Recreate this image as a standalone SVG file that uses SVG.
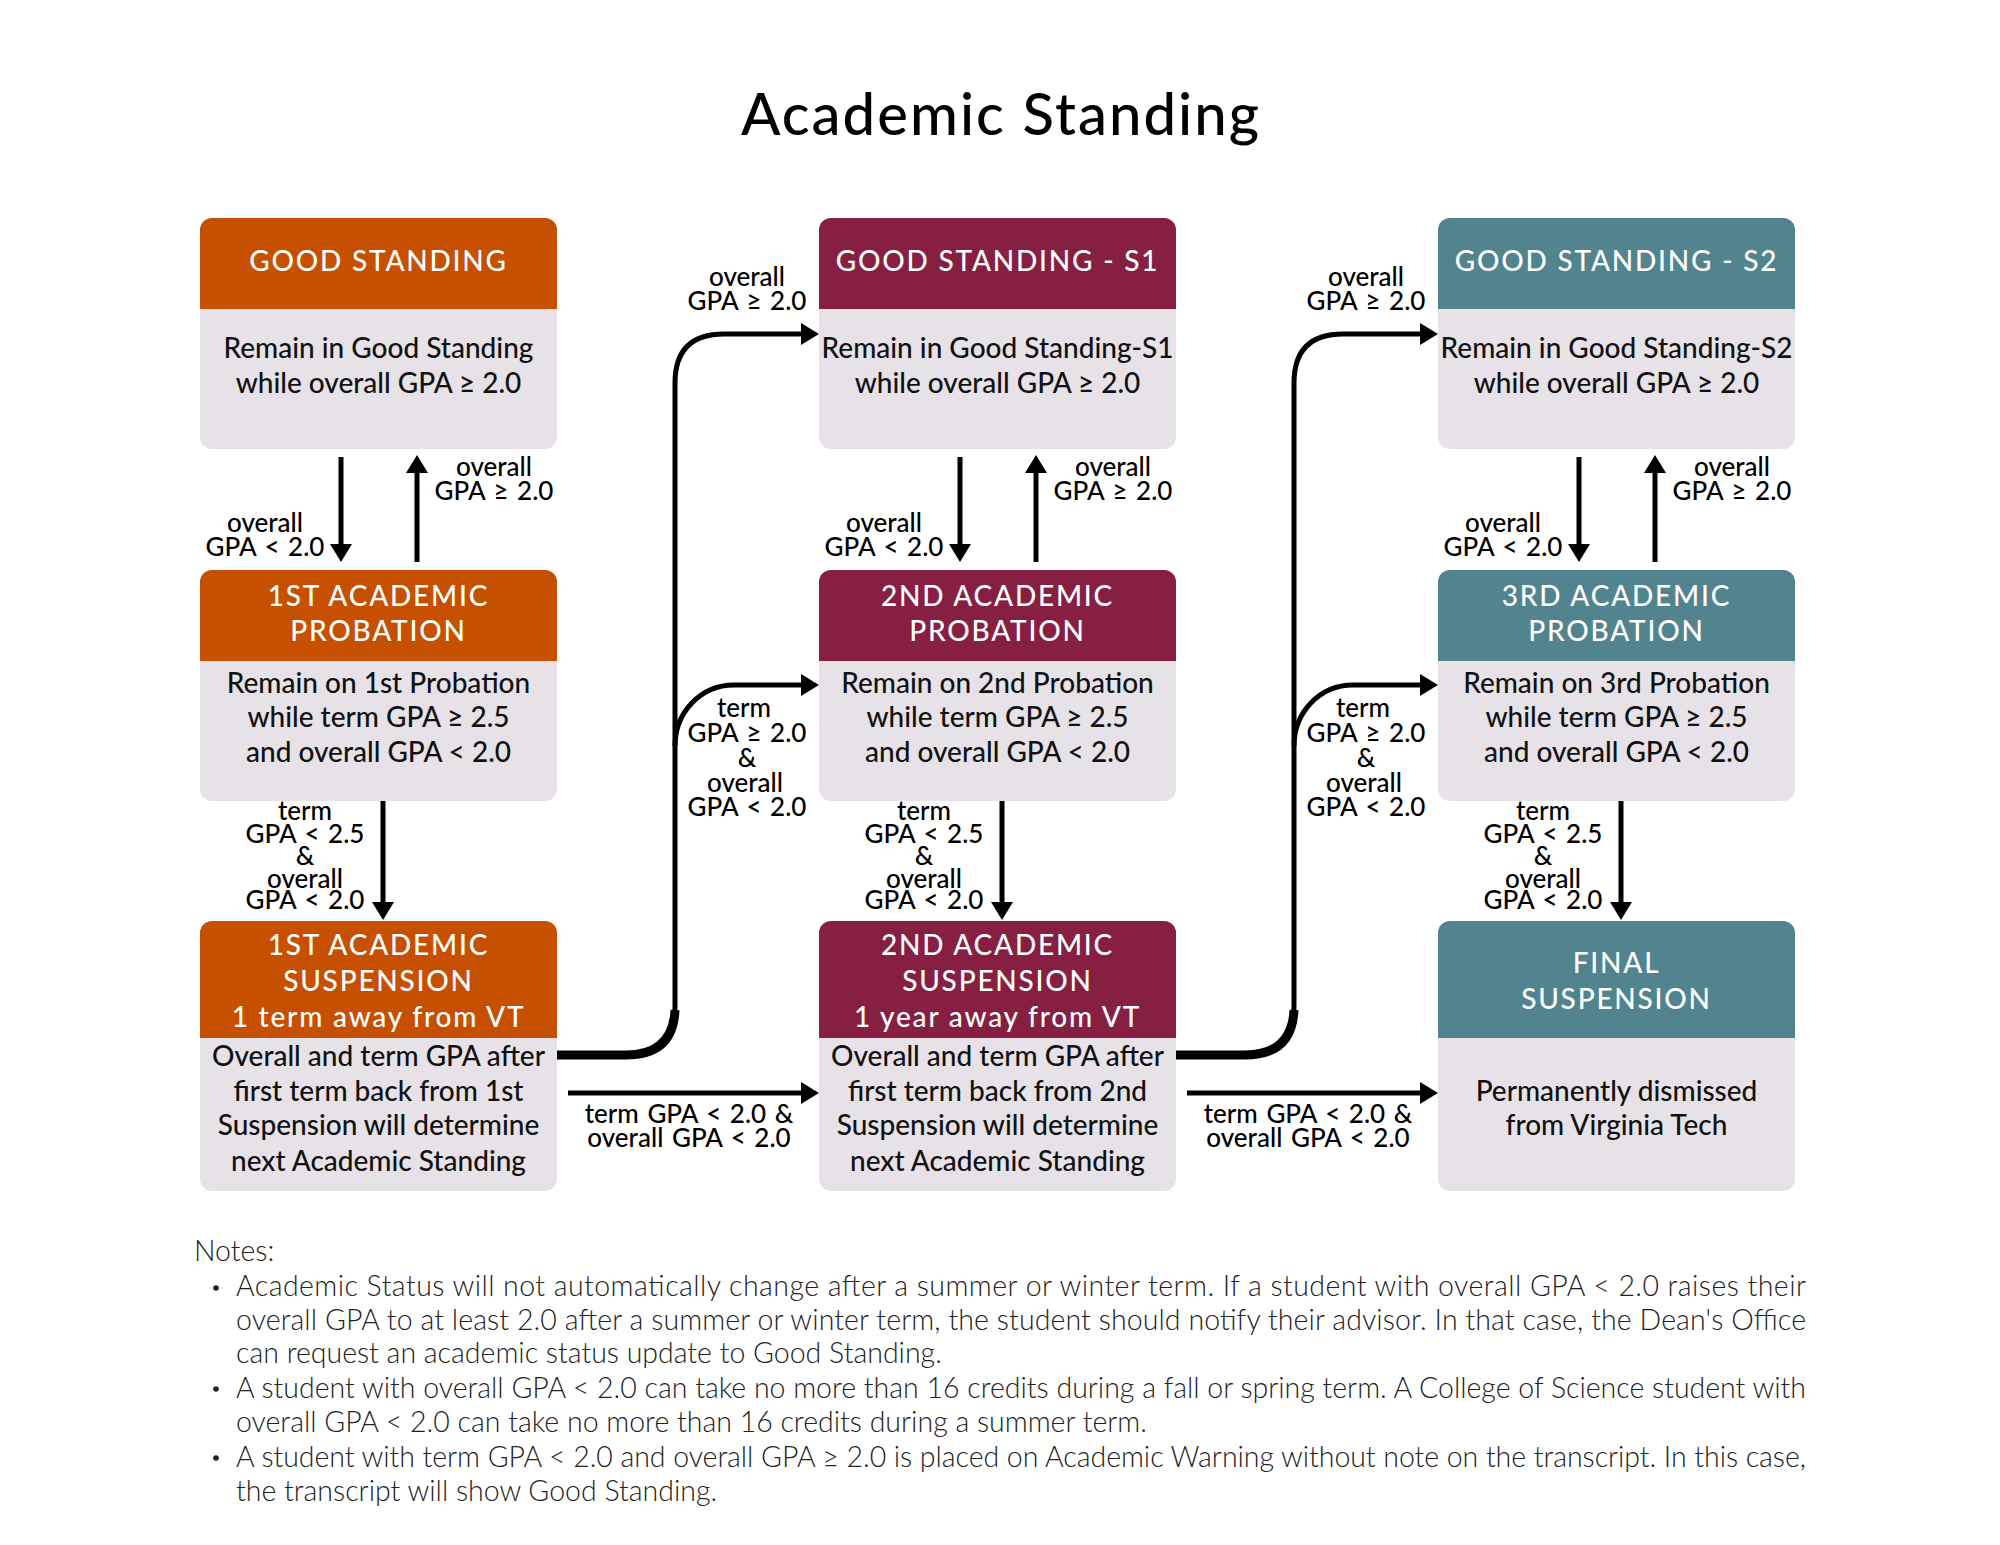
<svg xmlns="http://www.w3.org/2000/svg" width="2000" height="1545" viewBox="0 0 2000 1545">
<defs>
<style>
.bg{fill:#ffffff}
.body{fill:#E6E2E7}
.or{fill:#C75000}
.mr{fill:#861F41}
.tl{fill:#51848E}
.ht{font-family:Lato,"Open Sans","Liberation Sans",sans-serif;font-weight:500;font-size:28px;fill:#ffffff;text-anchor:middle;letter-spacing:1.8px}
.bt{font-family:Lato,"Open Sans","Liberation Sans",sans-serif;font-weight:500;font-size:28px;fill:#111111;text-anchor:middle}
.lb{font-family:Lato,"Open Sans","Liberation Sans",sans-serif;font-weight:500;font-size:26px;fill:#000000;text-anchor:middle;word-spacing:2px}
.title{font-family:Lato,"Open Sans","Liberation Sans",sans-serif;font-weight:500;font-size:58px;fill:#000000;text-anchor:middle}
.nt{font-family:Lato,"Open Sans","Liberation Sans",sans-serif;font-weight:300;font-size:28.5px;fill:#222222}
.ln{fill:none;stroke:#000000;stroke-width:5}
.thick{fill:none;stroke:#000000;stroke-width:9}
</style>
<marker id="ah" markerUnits="userSpaceOnUse" markerWidth="18" markerHeight="22" refX="10" refY="11" orient="auto" viewBox="0 0 18 22">
<path d="M0,0 L18,11 L0,22 Z" fill="#000000"/>
</marker>
</defs>
<rect class="bg" x="0" y="0" width="2000" height="1545"/>
<text class="title" x="1000" y="135" textLength="518">Academic Standing</text>

<!-- Column 1 -->
<g id="good-standing">
<rect class="body" x="200" y="218" width="357" height="231" rx="12"/>
<path class="or" d="M200,309 V230 A12,12 0 0 1 212,218 H545 A12,12 0 0 1 557,230 V309 Z"/>
<text class="ht" x="378.5" y="271">GOOD STANDING</text>
<text class="bt" x="378.5" y="358">Remain in Good Standing</text>
<text class="bt" x="378.5" y="393">while overall GPA ≥ 2.0</text>
</g>
<g id="probation-1">
<rect class="body" x="200" y="570" width="357" height="231" rx="12"/>
<path class="or" d="M200,661 V582 A12,12 0 0 1 212,570 H545 A12,12 0 0 1 557,582 V661 Z"/>
<text class="ht" x="378.5" y="606">1ST ACADEMIC</text>
<text class="ht" x="378.5" y="641">PROBATION</text>
<text class="bt" x="378.5" y="693">Remain on 1st Probation</text>
<text class="bt" x="378.5" y="727">while term GPA ≥ 2.5</text>
<text class="bt" x="378.5" y="762">and overall GPA &lt; 2.0</text>
</g>
<g id="suspension-1">
<rect class="body" x="200" y="921" width="357" height="270" rx="12"/>
<path class="or" d="M200,1038 V933 A12,12 0 0 1 212,921 H545 A12,12 0 0 1 557,933 V1038 Z"/>
<text class="ht" x="378.5" y="955">1ST ACADEMIC</text>
<text class="ht" x="378.5" y="991">SUSPENSION</text>
<text class="ht" x="378.5" y="1027">1 term away from VT</text>
<text class="bt" x="378.5" y="1066">Overall and term GPA after</text>
<text class="bt" x="378.5" y="1101">first term back from 1st</text>
<text class="bt" x="378.5" y="1135">Suspension will determine</text>
<text class="bt" x="378.5" y="1171">next Academic Standing</text>
</g>

<!-- Column 2 -->
<g id="good-standing-s1">
<rect class="body" x="819" y="218" width="357" height="231" rx="12"/>
<path class="mr" d="M819,309 V230 A12,12 0 0 1 831,218 H1164 A12,12 0 0 1 1176,230 V309 Z"/>
<text class="ht" x="997.5" y="271">GOOD STANDING - S1</text>
<text class="bt" x="997.5" y="358">Remain in Good Standing-S1</text>
<text class="bt" x="997.5" y="393">while overall GPA ≥ 2.0</text>
</g>
<g id="probation-2">
<rect class="body" x="819" y="570" width="357" height="231" rx="12"/>
<path class="mr" d="M819,661 V582 A12,12 0 0 1 831,570 H1164 A12,12 0 0 1 1176,582 V661 Z"/>
<text class="ht" x="997.5" y="606">2ND ACADEMIC</text>
<text class="ht" x="997.5" y="641">PROBATION</text>
<text class="bt" x="997.5" y="693">Remain on 2nd Probation</text>
<text class="bt" x="997.5" y="727">while term GPA ≥ 2.5</text>
<text class="bt" x="997.5" y="762">and overall GPA &lt; 2.0</text>
</g>
<g id="suspension-2">
<rect class="body" x="819" y="921" width="357" height="270" rx="12"/>
<path class="mr" d="M819,1038 V933 A12,12 0 0 1 831,921 H1164 A12,12 0 0 1 1176,933 V1038 Z"/>
<text class="ht" x="997.5" y="955">2ND ACADEMIC</text>
<text class="ht" x="997.5" y="991">SUSPENSION</text>
<text class="ht" x="997.5" y="1027">1 year away from VT</text>
<text class="bt" x="997.5" y="1066">Overall and term GPA after</text>
<text class="bt" x="997.5" y="1101">first term back from 2nd</text>
<text class="bt" x="997.5" y="1135">Suspension will determine</text>
<text class="bt" x="997.5" y="1171">next Academic Standing</text>
</g>

<!-- Column 3 -->
<g id="good-standing-s2">
<rect class="body" x="1438" y="218" width="357" height="231" rx="12"/>
<path class="tl" d="M1438,309 V230 A12,12 0 0 1 1450,218 H1783 A12,12 0 0 1 1795,230 V309 Z"/>
<text class="ht" x="1616.5" y="271">GOOD STANDING - S2</text>
<text class="bt" x="1616.5" y="358">Remain in Good Standing-S2</text>
<text class="bt" x="1616.5" y="393">while overall GPA ≥ 2.0</text>
</g>
<g id="probation-3">
<rect class="body" x="1438" y="570" width="357" height="231" rx="12"/>
<path class="tl" d="M1438,661 V582 A12,12 0 0 1 1450,570 H1783 A12,12 0 0 1 1795,582 V661 Z"/>
<text class="ht" x="1616.5" y="606">3RD ACADEMIC</text>
<text class="ht" x="1616.5" y="641">PROBATION</text>
<text class="bt" x="1616.5" y="693">Remain on 3rd Probation</text>
<text class="bt" x="1616.5" y="727">while term GPA ≥ 2.5</text>
<text class="bt" x="1616.5" y="762">and overall GPA &lt; 2.0</text>
</g>
<g id="final-suspension">
<rect class="body" x="1438" y="921" width="357" height="270" rx="12"/>
<path class="tl" d="M1438,1038 V933 A12,12 0 0 1 1450,921 H1783 A12,12 0 0 1 1795,933 V1038 Z"/>
<text class="ht" x="1616.5" y="973">FINAL</text>
<text class="ht" x="1616.5" y="1009">SUSPENSION</text>
<text class="bt" x="1616.5" y="1101">Permanently dismissed</text>
<text class="bt" x="1616.5" y="1135">from Virginia Tech</text>
</g>

<!-- Connectors -->
<g id="connectors">
<path class="ln" d="M341,457 V554" marker-end="url(#ah)"/>
<path class="ln" d="M417,562 V463" marker-end="url(#ah)"/>
<path class="ln" d="M383,801 V912" marker-end="url(#ah)"/>
<path class="ln" d="M960,457 V554" marker-end="url(#ah)"/>
<path class="ln" d="M1036,562 V463" marker-end="url(#ah)"/>
<path class="ln" d="M1002,801 V912" marker-end="url(#ah)"/>
<path class="ln" d="M1579,457 V554" marker-end="url(#ah)"/>
<path class="ln" d="M1655,562 V463" marker-end="url(#ah)"/>
<path class="ln" d="M1621,801 V912" marker-end="url(#ah)"/>

<path class="ln" d="M557,1055 H626 Q675,1055 675,1006 V383 Q675,334 724,334 H811" marker-end="url(#ah)"/>
<path class="thick" d="M557,1055 H626 Q673,1055 675,1010"/>
<path class="ln" d="M675,746 C675,712 701,685 734,685 H811" marker-end="url(#ah)"/>
<path class="ln" d="M568,1093 H811" marker-end="url(#ah)"/>

<path class="ln" d="M1176,1055 H1245 Q1294,1055 1294,1006 V383 Q1294,334 1343,334 H1430" marker-end="url(#ah)"/>
<path class="thick" d="M1176,1055 H1245 Q1292,1055 1294,1010"/>
<path class="ln" d="M1294,746 C1294,712 1320,685 1353,685 H1430" marker-end="url(#ah)"/>
<path class="ln" d="M1187,1093 H1430" marker-end="url(#ah)"/>

<text class="lb" x="265" y="532">overall</text>
<text class="lb" x="265" y="556">GPA &lt; 2.0</text>
<text class="lb" x="494" y="476">overall</text>
<text class="lb" x="494" y="500">GPA ≥ 2.0</text>
<text class="lb" x="305" y="820">term</text>
<text class="lb" x="305" y="843">GPA &lt; 2.5</text>
<text class="lb" x="305" y="865">&amp;</text>
<text class="lb" x="305" y="888">overall</text>
<text class="lb" x="305" y="909">GPA &lt; 2.0</text>

<text class="lb" x="884" y="532">overall</text>
<text class="lb" x="884" y="556">GPA &lt; 2.0</text>
<text class="lb" x="1113" y="476">overall</text>
<text class="lb" x="1113" y="500">GPA ≥ 2.0</text>
<text class="lb" x="924" y="820">term</text>
<text class="lb" x="924" y="843">GPA &lt; 2.5</text>
<text class="lb" x="924" y="865">&amp;</text>
<text class="lb" x="924" y="888">overall</text>
<text class="lb" x="924" y="909">GPA &lt; 2.0</text>

<text class="lb" x="1503" y="532">overall</text>
<text class="lb" x="1503" y="556">GPA &lt; 2.0</text>
<text class="lb" x="1732" y="476">overall</text>
<text class="lb" x="1732" y="500">GPA ≥ 2.0</text>
<text class="lb" x="1543" y="820">term</text>
<text class="lb" x="1543" y="843">GPA &lt; 2.5</text>
<text class="lb" x="1543" y="865">&amp;</text>
<text class="lb" x="1543" y="888">overall</text>
<text class="lb" x="1543" y="909">GPA &lt; 2.0</text>

<text class="lb" x="747" y="286">overall</text>
<text class="lb" x="747" y="310">GPA ≥ 2.0</text>
<text class="lb" x="744" y="717">term</text>
<text class="lb" x="747" y="742">GPA ≥ 2.0</text>
<text class="lb" x="747" y="767">&amp;</text>
<text class="lb" x="745" y="792">overall</text>
<text class="lb" x="747" y="816">GPA &lt; 2.0</text>
<text class="lb" x="689" y="1123">term GPA &lt; 2.0 &amp;</text>
<text class="lb" x="689" y="1147">overall GPA &lt; 2.0</text>

<text class="lb" x="1366" y="286">overall</text>
<text class="lb" x="1366" y="310">GPA ≥ 2.0</text>
<text class="lb" x="1363" y="717">term</text>
<text class="lb" x="1366" y="742">GPA ≥ 2.0</text>
<text class="lb" x="1366" y="767">&amp;</text>
<text class="lb" x="1364" y="792">overall</text>
<text class="lb" x="1366" y="816">GPA &lt; 2.0</text>
<text class="lb" x="1308" y="1123">term GPA &lt; 2.0 &amp;</text>
<text class="lb" x="1308" y="1147">overall GPA &lt; 2.0</text>
</g>

<!-- Notes -->
<g id="notes">
<text class="nt" x="194" y="1261">Notes:</text>
<circle cx="216" cy="1288" r="2.8" fill="#222222"/>
<circle cx="216" cy="1389" r="2.8" fill="#222222"/>
<circle cx="216" cy="1458" r="2.8" fill="#222222"/>
<text class="nt" x="236" y="1296" textLength="1570" lengthAdjust="spacing">Academic Status will not automatically change after a summer or winter term. If a student with overall GPA &lt; 2.0 raises their</text>
<text class="nt" x="236" y="1330" textLength="1570" lengthAdjust="spacing">overall GPA to at least 2.0 after a summer or winter term, the student should notify their advisor. In that case, the Dean's Office</text>
<text class="nt" x="236" y="1363">can request an academic status update to Good Standing.</text>
<text class="nt" x="236" y="1398" textLength="1570" lengthAdjust="spacing">A student with overall GPA &lt; 2.0 can take no more than 16 credits during a fall or spring term. A College of Science student with</text>
<text class="nt" x="236" y="1432">overall GPA &lt; 2.0 can take no more than 16 credits during a summer term.</text>
<text class="nt" x="236" y="1467" textLength="1570" lengthAdjust="spacing">A student with term GPA &lt; 2.0 and overall GPA ≥ 2.0 is placed on Academic Warning without note on the transcript. In this case,</text>
<text class="nt" x="236" y="1501">the transcript will show Good Standing.</text>
</g>
</svg>
